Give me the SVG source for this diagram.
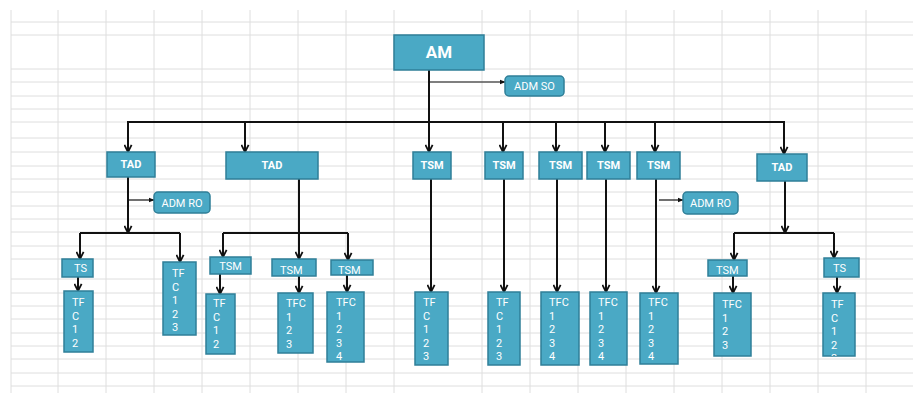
<svg xmlns="http://www.w3.org/2000/svg" width="913" height="396" viewBox="0 0 913 396">
<style>
.grid line{stroke:#dedede;stroke-width:1}
.box{fill:#4aa9c5;stroke:#2f7f98;stroke-width:1.5}
.t{font-family:Roboto,"Liberation Sans",sans-serif;fill:#ffffff}
.big{font-size:17px;font-weight:bold}
.b{font-size:11px;font-weight:bold}
.n{font-size:11px}
.c path{fill:none;stroke:#111;stroke-width:2}
.c path.thin{stroke-width:1.2}
</style>
<defs>
<marker id="ah" viewBox="0 0 10 10" refX="9" refY="5" markerWidth="9" markerHeight="9" markerUnits="userSpaceOnUse" orient="auto">
<path d="M1,1 L9,5 L1,9" fill="none" stroke="#111" stroke-width="2"/>
</marker>
<marker id="sa" viewBox="0 0 10 10" refX="9" refY="5" markerWidth="6" markerHeight="6" markerUnits="userSpaceOnUse" orient="auto">
<path d="M0,1 L10,5 L0,9 Z" fill="#111"/>
</marker>
<clipPath id="clipA"><rect x="64" y="291" width="29" height="61"/></clipPath>
<clipPath id="clipB"><rect x="823" y="293" width="32" height="63"/></clipPath>
</defs>
<rect width="913" height="396" fill="#ffffff"/>
<g class="grid">
<line x1="11" y1="10" x2="11" y2="393"/><line x1="58" y1="10" x2="58" y2="393"/><line x1="106" y1="10" x2="106" y2="393"/><line x1="154" y1="10" x2="154" y2="393"/><line x1="202" y1="10" x2="202" y2="393"/><line x1="250" y1="10" x2="250" y2="393"/><line x1="298" y1="10" x2="298" y2="393"/><line x1="346" y1="10" x2="346" y2="393"/><line x1="394" y1="10" x2="394" y2="393"/><line x1="482" y1="10" x2="482" y2="393"/><line x1="530" y1="10" x2="530" y2="393"/><line x1="578" y1="10" x2="578" y2="393"/><line x1="626" y1="10" x2="626" y2="393"/><line x1="674" y1="10" x2="674" y2="393"/><line x1="722" y1="10" x2="722" y2="393"/><line x1="770" y1="10" x2="770" y2="393"/><line x1="818" y1="10" x2="818" y2="393"/><line x1="866" y1="10" x2="866" y2="393"/>
<line x1="11" y1="22" x2="913" y2="22"/><line x1="11" y1="35" x2="913" y2="35"/><line x1="11" y1="69" x2="913" y2="69"/><line x1="11" y1="82" x2="913" y2="82"/><line x1="11" y1="96" x2="913" y2="96"/><line x1="11" y1="109" x2="913" y2="109"/><line x1="11" y1="122" x2="913" y2="122"/><line x1="11" y1="138" x2="913" y2="138"/><line x1="11" y1="152" x2="913" y2="152"/><line x1="11" y1="166" x2="913" y2="166"/><line x1="11" y1="179" x2="913" y2="179"/><line x1="11" y1="192" x2="913" y2="192"/><line x1="11" y1="206" x2="913" y2="206"/><line x1="11" y1="219" x2="913" y2="219"/><line x1="11" y1="232" x2="913" y2="232"/><line x1="11" y1="246" x2="913" y2="246"/><line x1="11" y1="259" x2="913" y2="259"/><line x1="11" y1="279" x2="913" y2="279"/><line x1="11" y1="293" x2="913" y2="293"/><line x1="11" y1="306" x2="913" y2="306"/><line x1="11" y1="319" x2="913" y2="319"/><line x1="11" y1="333" x2="913" y2="333"/><line x1="11" y1="346" x2="913" y2="346"/><line x1="11" y1="359" x2="913" y2="359"/><line x1="11" y1="373" x2="913" y2="373"/><line x1="11" y1="386" x2="913" y2="386"/>
</g>
<g class="c" id="connectors">
<path d="M429,70 V122"/>
<path class="thin" d="M429,82 H505" marker-end="url(#sa)"/>
<path d="M127,122 H785"/>
<path d="M128,122 V152" marker-end="url(#ah)"/>
<path d="M245,122 V152" marker-end="url(#ah)"/>
<path d="M429,122 V152" marker-end="url(#ah)"/>
<path d="M503,122 V152" marker-end="url(#ah)"/>
<path d="M556,122 V152" marker-end="url(#ah)"/>
<path d="M605,122 V152" marker-end="url(#ah)"/>
<path d="M655,122 V152" marker-end="url(#ah)"/>
<path d="M784,122 V154" marker-end="url(#ah)"/>
<path d="M128,177 V233" marker-end="url(#ah)"/>
<path class="thin" d="M128,200 H154" marker-end="url(#sa)"/>
<path d="M80,233 H180"/>
<path d="M80,233 V259" marker-end="url(#ah)"/>
<path d="M180,233 V262" marker-end="url(#ah)"/>
<path d="M299,179 V259" marker-end="url(#ah)"/>
<path d="M223,233 H348"/>
<path d="M223,233 V257" marker-end="url(#ah)"/>
<path d="M348,233 V260" marker-end="url(#ah)"/>
<path d="M431,179 V292" marker-end="url(#ah)"/>
<path d="M504,179 V292" marker-end="url(#ah)"/>
<path d="M557,179 V292" marker-end="url(#ah)"/>
<path d="M606,179 V292" marker-end="url(#ah)"/>
<path d="M656,179 V293" marker-end="url(#ah)"/>
<path class="thin" d="M659,200 H683" marker-end="url(#sa)"/>
<path d="M785,181 V233" marker-end="url(#ah)"/>
<path d="M734,233 H834"/>
<path d="M734,233 V260" marker-end="url(#ah)"/>
<path d="M834,233 V258" marker-end="url(#ah)"/>
<path d="M78,277 V291" marker-end="url(#ah)"/>
<path d="M220,274 V294" marker-end="url(#ah)"/>
<path d="M299,276 V293" marker-end="url(#ah)"/>
<path d="M347,275 V292" marker-end="url(#ah)"/>
<path d="M733,276 V293" marker-end="url(#ah)"/>
<path d="M837,277 V293" marker-end="url(#ah)"/>
</g>
<g id="am"><rect class="box" x="394" y="35" width="90" height="35"/><text class="t big" x="439" y="58" text-anchor="middle">AM</text></g>
<g id="admso"><rect class="box" x="505" y="76" width="59" height="20" rx="4"/><text class="t n" x="534.5" y="90" text-anchor="middle">ADM  SO</text></g>
<g id="tad1"><rect class="box" x="107" y="152" width="48" height="25"/><text class="t b" x="131" y="168" text-anchor="middle">TAD</text></g>
<g id="tad2"><rect class="box" x="226" y="152" width="92" height="27"/><text class="t b" x="272" y="169" text-anchor="middle">TAD</text></g>
<g id="tsm1"><rect class="box" x="413" y="152" width="38" height="27"/><text class="t b" x="432" y="169" text-anchor="middle">TSM</text></g>
<g id="tsm2"><rect class="box" x="485" y="152" width="38" height="27"/><text class="t b" x="504" y="169" text-anchor="middle">TSM</text></g>
<g id="tsm3"><rect class="box" x="539" y="152" width="43" height="27"/><text class="t b" x="560.5" y="169" text-anchor="middle">TSM</text></g>
<g id="tsm4"><rect class="box" x="587" y="152" width="43" height="27"/><text class="t b" x="608.5" y="169" text-anchor="middle">TSM</text></g>
<g id="tsm5"><rect class="box" x="637" y="152" width="43" height="27"/><text class="t b" x="658.5" y="169" text-anchor="middle">TSM</text></g>
<g id="tad3"><rect class="box" x="757" y="154" width="50" height="27"/><text class="t b" x="782" y="171" text-anchor="middle">TAD</text></g>
<g id="admro1"><rect class="box" x="154" y="192" width="56" height="21" rx="4"/><text class="t n" x="182" y="206.5" text-anchor="middle">ADM RO</text></g>
<g id="admro2"><rect class="box" x="683" y="192" width="55" height="22" rx="4"/><text class="t n" x="710.5" y="207" text-anchor="middle">ADM RO</text></g>
<g id="ts1"><rect class="box" x="62" y="259" width="31" height="18"/><text class="t n" x="74" y="272">TS</text></g>
<g id="tf1"><rect class="box" x="64" y="291" width="29" height="61"/><text class="t n" x="72" y="306" clip-path="url(#clipA)"><tspan x="72">TF</tspan><tspan x="72" dy="13.5">C</tspan><tspan x="72" dy="13.5">1</tspan><tspan x="72" dy="13.5">2</tspan><tspan x="72" dy="13.5">3</tspan></text></g>
<g id="tf2"><rect class="box" x="163" y="262" width="33" height="73"/><text class="t n" x="172" y="277"><tspan x="172">TF</tspan><tspan x="172" dy="13.5">C</tspan><tspan x="172" dy="13.5">1</tspan><tspan x="172" dy="13.5">2</tspan><tspan x="172" dy="13.5">3</tspan></text></g>
<g id="tsm6"><rect class="box" x="210" y="257" width="41" height="17"/><text class="t n" x="230.5" y="270" text-anchor="middle">TSM</text></g>
<g id="tf3"><rect class="box" x="206" y="294" width="29" height="60"/><text class="t n" x="213" y="307"><tspan x="213">TF</tspan><tspan x="213" dy="13.5">C</tspan><tspan x="213" dy="13.5">1</tspan><tspan x="213" dy="13.5">2</tspan></text></g>
<g id="tsm7"><rect class="box" x="272" y="259" width="44" height="17"/><text class="t n" x="280" y="274">TSM</text></g>
<g id="tfc4"><rect class="box" x="278" y="293" width="35" height="60"/><text class="t n" x="286" y="307"><tspan x="286">TFC</tspan><tspan x="286" dy="13.5">1</tspan><tspan x="286" dy="13.5">2</tspan><tspan x="286" dy="13.5">3</tspan></text></g>
<g id="tsm8"><rect class="box" x="331" y="260" width="42" height="15"/><text class="t n" x="338" y="274">TSM</text></g>
<g id="tfc5"><rect class="box" x="327" y="292" width="37" height="70"/><text class="t n" x="336" y="306"><tspan x="336">TFC</tspan><tspan x="336" dy="13.5">1</tspan><tspan x="336" dy="13.5">2</tspan><tspan x="336" dy="13.5">3</tspan><tspan x="336" dy="13.5">4</tspan></text></g>
<g id="tf6"><rect class="box" x="415" y="292" width="33" height="73"/><text class="t n" x="423" y="306"><tspan x="423">TF</tspan><tspan x="423" dy="13.5">C</tspan><tspan x="423" dy="13.5">1</tspan><tspan x="423" dy="13.5">2</tspan><tspan x="423" dy="13.5">3</tspan></text></g>
<g id="tf7"><rect class="box" x="488" y="292" width="32" height="73"/><text class="t n" x="496" y="306"><tspan x="496">TF</tspan><tspan x="496" dy="13.5">C</tspan><tspan x="496" dy="13.5">1</tspan><tspan x="496" dy="13.5">2</tspan><tspan x="496" dy="13.5">3</tspan></text></g>
<g id="tfc8"><rect class="box" x="541" y="292" width="38" height="73"/><text class="t n" x="549" y="306"><tspan x="549">TFC</tspan><tspan x="549" dy="13.5">1</tspan><tspan x="549" dy="13.5">2</tspan><tspan x="549" dy="13.5">3</tspan><tspan x="549" dy="13.5">4</tspan></text></g>
<g id="tfc9"><rect class="box" x="590" y="292" width="37" height="73"/><text class="t n" x="598" y="306"><tspan x="598">TFC</tspan><tspan x="598" dy="13.5">1</tspan><tspan x="598" dy="13.5">2</tspan><tspan x="598" dy="13.5">3</tspan><tspan x="598" dy="13.5">4</tspan></text></g>
<g id="tfc10"><rect class="box" x="640" y="293" width="38" height="71"/><text class="t n" x="648" y="306"><tspan x="648">TFC</tspan><tspan x="648" dy="13.5">1</tspan><tspan x="648" dy="13.5">2</tspan><tspan x="648" dy="13.5">3</tspan><tspan x="648" dy="13.5">4</tspan></text></g>
<g id="tsm9"><rect class="box" x="708" y="260" width="39" height="16"/><text class="t n" x="716" y="274">TSM</text></g>
<g id="tfc11"><rect class="box" x="714" y="293" width="37" height="63"/><text class="t n" x="722" y="308"><tspan x="722">TFC</tspan><tspan x="722" dy="13.5">1</tspan><tspan x="722" dy="13.5">2</tspan><tspan x="722" dy="13.5">3</tspan></text></g>
<g id="ts2"><rect class="box" x="824" y="258" width="35" height="19"/><text class="t n" x="833" y="272">TS</text></g>
<g id="tf12"><rect class="box" x="823" y="293" width="32" height="63"/><text class="t n" x="831" y="308" clip-path="url(#clipB)"><tspan x="831">TF</tspan><tspan x="831" dy="13.5">C</tspan><tspan x="831" dy="13.5">1</tspan><tspan x="831" dy="13.5">2</tspan><tspan x="831" dy="13.5">3</tspan></text></g>
</svg>
